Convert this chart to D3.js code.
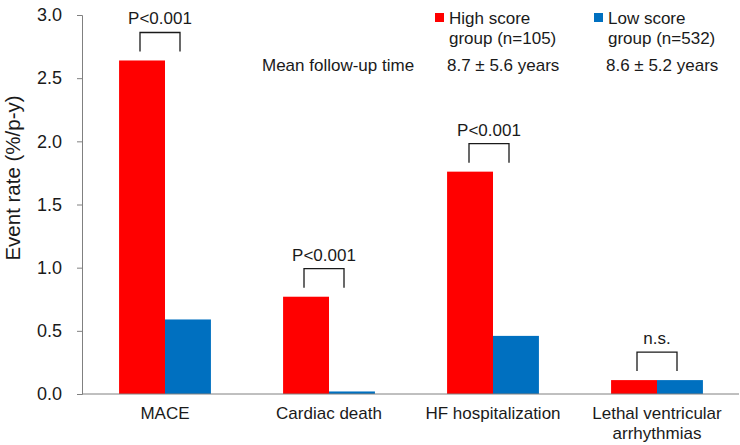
<!DOCTYPE html>
<html lang="en">
<head>
    <meta charset="UTF-8">
    <title>Event rate by score group</title>
    <script src="https://d3js.org/d3.v7.min.js"></script>
    <style>
        body { margin: 0; background: #fff; }
        text { font-family: "Liberation Sans", Arial, sans-serif; fill: #1a1a1a; }
    </style>
</head>
<body>
<svg width="740" height="445"></svg>
<script>
    let categories = ["MACE", "Cardiac death", "HF hospitalization", "Lethal ventricular\narrhythmias"]
    let highScore = [2.64, 0.77, 1.76, 0.11]
    let lowScore = [0.59, 0.02, 0.46, 0.11]
    let pLabels = ["P<0.001", "P<0.001", "P<0.001", "n.s."]
    let yTicks = [0, 0.5, 1.0, 1.5, 2.0, 2.5, 3.0]

    let red = "#ff0000", blue = "#0070c0"
    let svg = d3.select("svg")

    let x = d3.scaleBand()
        .domain(categories)
        .range([83, 739])
        .paddingInner(0.44)
        .paddingOuter(0.22)
    let y = d3.scaleLinear().domain([0, 3]).range([394, 15])

    // y axis
    let yAxis = svg.append("g")
        .attr("transform", "translate(82,0)")
        .call(d3.axisLeft(y).tickValues(yTicks).tickFormat(d3.format(".1f")).tickSize(5).tickPadding(15))
    yAxis.select(".domain").attr("stroke", "#808080")
    yAxis.selectAll(".tick line").attr("stroke", "#808080")
    yAxis.selectAll(".tick text").style("font-size", "18px").attr("fill", "#1a1a1a")

    svg.append("text")
        .attr("transform", "translate(20,178) rotate(-90)")
        .attr("text-anchor", "middle")
        .style("font-size", "20.5px")
        .text("Event rate (%/p-y)")

    // bars
    let half = x.bandwidth() / 2
    let groups = svg.append("g").selectAll("g")
        .data(categories)
        .enter().append("g")

    groups.append("rect")
        .attr("x", d => x(d))
        .attr("width", half)
        .attr("y", (d, i) => y(highScore[i]))
        .attr("height", (d, i) => y(0) - y(highScore[i]))
        .attr("fill", red)

    groups.append("rect")
        .attr("x", d => x(d) + half)
        .attr("width", half)
        .attr("y", (d, i) => y(lowScore[i]))
        .attr("height", (d, i) => y(0) - y(lowScore[i]))
        .attr("fill", blue)

    // baseline
    svg.append("line")
        .attr("x1", 82).attr("x2", 739)
        .attr("y1", y(0)).attr("y2", y(0))
        .attr("stroke", "#808080")

    // category labels
    groups.append("text")
        .attr("text-anchor", "middle")
        .style("font-size", "17px")
        .selectAll("tspan")
        .data(d => d.split("\n").map(t => ({t, c: d})))
        .enter().append("tspan")
        .attr("x", d => x(d.c) + half)
        .attr("y", (d, i) => 419 + i * 20)
        .text(d => d.t)

    // significance brackets
    let offsets = [-5, -5, -4, 0]
    groups.each(function(d, i) {
        let g = d3.select(this)
        let cx = x(d) + half + offsets[i]
        let top = y(Math.max(highScore[i], lowScore[i])) - 28
        g.append("path")
            .attr("d", `M${cx - 20},${top + 19}V${top}H${cx + 20}V${top + 19}`)
            .attr("fill", "none")
            .attr("stroke", "#1a1a1a")
            .attr("stroke-width", 1.3)
        g.append("text")
            .attr("x", cx)
            .attr("y", top - 8)
            .attr("text-anchor", "middle")
            .style("font-size", "17px")
            .text(pLabels[i])
    })

    // legend
    let legend = [
        {color: red, l1: "High score", l2: "group (n=105)", fu: "8.7 \u00b1 5.6 years", x: 435},
        {color: blue, l1: "Low score", l2: "group (n=532)", fu: "8.6 \u00b1 5.2 years", x: 594}
    ]
    let lg = svg.append("g").selectAll("g").data(legend).enter().append("g")
    lg.append("rect")
        .attr("x", d => d.x).attr("y", 13)
        .attr("width", 9).attr("height", 9)
        .attr("fill", d => d.color)
    lg.append("text").attr("x", d => d.x + 14).attr("y", 24).style("font-size", "17px").text(d => d.l1)
    lg.append("text").attr("x", d => d.x + 14).attr("y", 44).style("font-size", "17px").text(d => d.l2)
    lg.append("text").attr("x", d => d.x + 12).attr("y", 71).style("font-size", "17px").text(d => d.fu)

    svg.append("text")
        .attr("x", 262).attr("y", 71)
        .style("font-size", "17px")
        .text("Mean follow-up time")
</script>
</body>
</html>
